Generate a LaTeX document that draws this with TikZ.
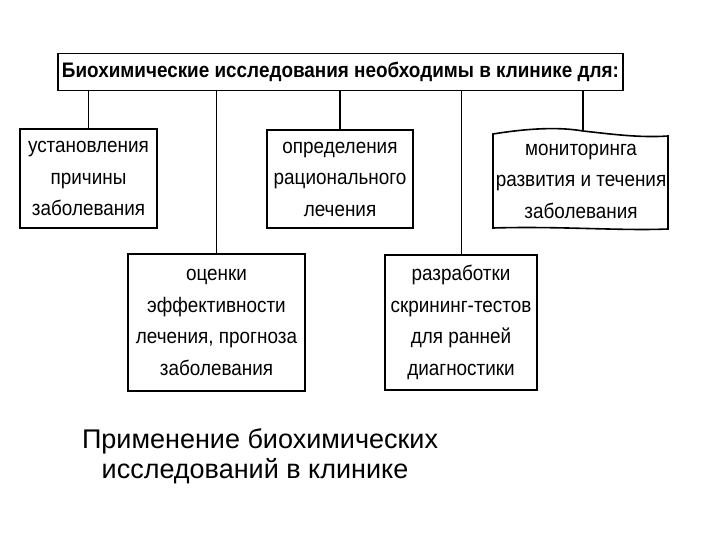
\documentclass[tikz,border=0pt]{standalone}
\usepackage{fontspec}
\setmainfont{Liberation Sans}
\newfontfamily\narrowfont[FakeStretch=0.9]{Liberation Sans}
\begin{document}
\begin{tikzpicture}[x=1pt,y=-1pt,
  box/.style={draw, line width=1.6pt, inner sep=1pt, align=center,
    font=\narrowfont\fontsize{21}{31.5}\selectfont},
  link/.style={line width=1.3pt},
  caption/.style={font=\fontsize{27}{30}\selectfont, inner sep=0pt}]
\useasboundingbox (0,0) rectangle (720,540);
% top box
\node[box, minimum width=565, minimum height=37, font=\narrowfont\bfseries\fontsize{21}{22}\selectfont]
  (top) at (340.5,72) {Биохимические исследования необходимы в клинике для:};
% first row
\node[box, minimum width=137, minimum height=99] (b1) at (88.5,178.5)
  {установления\\причины\\заболевания};
\node[box, minimum width=146, minimum height=98] (b2) at (340,179)
  {определения\\рационального\\лечения};
\node[box, draw=none, minimum width=175, minimum height=96] (b3) at (581,181)
  {мониторинга\\развития и течения\\заболевания};
\draw[line width=1.6pt] (493,134) .. controls (530,128) and (560,127) .. (583,131)
  .. controls (610,134) and (640,138) .. (668,136) -- (668,229)
  .. controls (620,231) and (560,226) .. (493,228) -- cycle;
% second row
\node[box, minimum width=177, minimum height=137] (b4) at (216.5,322.5)
  {оценки\\эффективности\\лечения, прогноза\\заболевания};
\node[box, minimum width=152, minimum height=135] (b5) at (461,322.5)
  {разработки\\скрининг-тестов\\для ранней\\диагностики};
% connectors
\draw[link] (b1.north) -- (b1.north |- top.south);
\draw[link] (b2.north) -- (b2.north |- top.south);
\draw[link] (583,131) -- (583,90.5);
\draw[line width=1pt] (b4.north) -- (b4.north |- top.south);
\draw[line width=1pt] (b5.north) -- (b5.north |- top.south);
% caption
\node[caption, anchor=base] (cap1) at (260,448) {Применение биохимических};
\node[caption, anchor=base] (cap2) at (255,478) {исследований в клинике};
\end{tikzpicture}
\end{document}
